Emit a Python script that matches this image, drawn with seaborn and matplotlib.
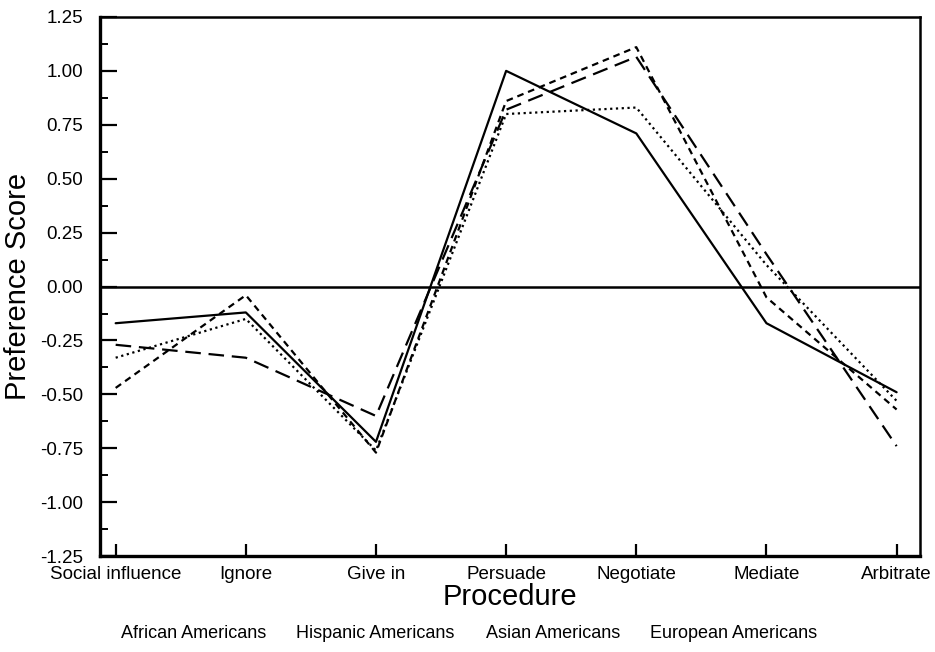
import numpy as np
import pandas as pd
import matplotlib
matplotlib.use('Agg')
import matplotlib.pyplot as plt
from matplotlib.ticker import MultipleLocator
from matplotlib.lines import Line2D
import seaborn as sns

# procedures on the x axis
procedures = ['Social influence', 'Ignore', 'Give in', 'Persuade',
              'Negotiate', 'Mediate', 'Arbitrate']
groups = ['African Americans', 'Hispanic Americans', 'Asian Americans',
          'European Americans']

# preference scores
african = [-0.17, -0.12, -0.72, 1.00, 0.71, -0.17, -0.49]
hispanic = [-0.33, -0.15, -0.76, 0.80, 0.83, 0.10, -0.53]
asian = [-0.47, -0.04, -0.77, 0.86, 1.11, -0.05, -0.57]
european = [-0.27, -0.33, -0.60, 0.82, 1.065, 0.15, -0.74]

y_ticks = [-1.25, -1.00, -0.75, -0.50, -0.25, 0.00, 0.25, 0.50, 0.75, 1.00, 1.25]

df = pd.DataFrame({
    'Procedure': procedures * 4,
    'pos': list(range(len(procedures))) * 4,
    'Score': african + hispanic + asian + european,
    'Group': sum([[g] * len(procedures) for g in groups], []),
})

sns.set_style('ticks')
plt.rcParams['font.family'] = ['Liberation Sans', 'DejaVu Sans']
plt.rcParams['text.color'] = 'black'
plt.rcParams['axes.labelcolor'] = 'black'
plt.rcParams['xtick.color'] = 'black'
plt.rcParams['ytick.color'] = 'black'
plt.rcParams['axes.edgecolor'] = 'black'

fig = plt.figure(figsize=(9.35, 6.52), dpi=100)
ax = fig.add_axes([0.107, 0.147, 0.877, 0.827])

dash_map = {
    'African Americans': '',
    'Hispanic Americans': (1, 1.6),
    'Asian Americans': (3, 2.2),
    'European Americans': (7, 3.5),
}
sns.lineplot(data=df, x='pos', y='Score', hue='Group', style='Group',
             palette=['black'] * 4, dashes=dash_map, linewidth=1.6,
             legend=False, ax=ax)

ax.axhline(0, color='black', linewidth=1.8, zorder=1)

ax.set_xlim(-0.12, 6.18)
ax.set_ylim(-1.25, 1.25)
ax.set_xticks(range(len(procedures)))
ax.set_xticklabels(procedures, fontsize=13.5)
ax.set_yticks(y_ticks)
ax.set_yticklabels(['%.2f' % v for v in y_ticks], fontsize=13.5)
ax.yaxis.set_minor_locator(MultipleLocator(0.125))

ax.tick_params(axis='y', which='major', direction='in', length=12, width=1.6, pad=12)
ax.tick_params(axis='y', which='minor', direction='in', length=6, width=1.4)
ax.tick_params(axis='x', which='major', direction='in', length=9, width=1.6, pad=7)

for side in ['left', 'bottom']:
    ax.spines[side].set_linewidth(2.4)
for side in ['top', 'right']:
    ax.spines[side].set_linewidth(1.8)
    ax.spines[side].set_visible(True)

ax.set_xlabel('Procedure', fontsize=21, labelpad=0)
ax.set_ylabel('Preference Score', fontsize=21, labelpad=6)

# legend is just the group names, no line samples
handles = [Line2D([], [], linestyle='none') for g in groups]
ax.legend(handles, groups, loc='upper center', bbox_to_anchor=(0.45, -0.098),
          ncol=4, frameon=False, handlelength=0, handletextpad=0,
          columnspacing=1.7, fontsize=13)

fig.savefig('out.png', dpi=100)
